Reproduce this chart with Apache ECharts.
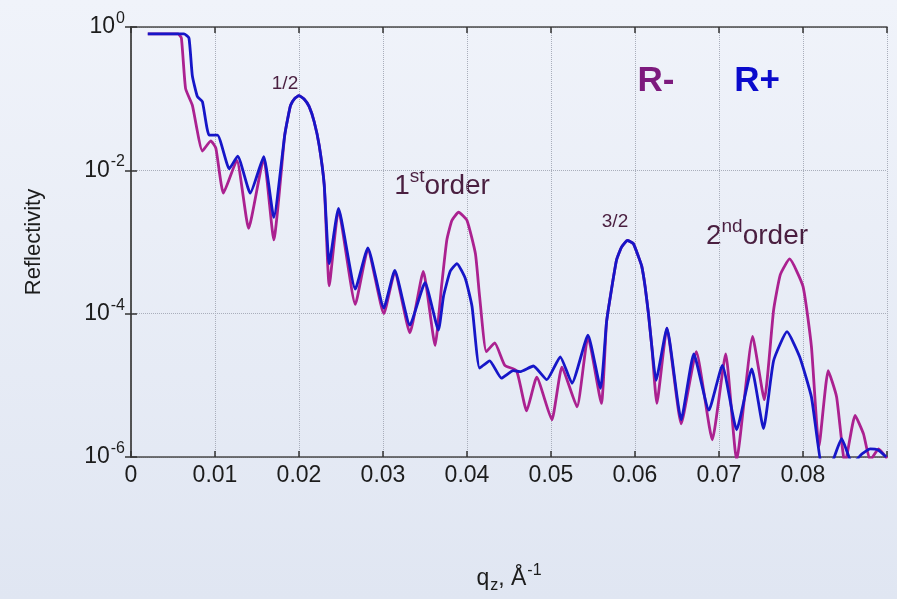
<!DOCTYPE html>
<html>
<head>
<meta charset="utf-8">
<script src="https://cdn.jsdelivr.net/npm/echarts@6/dist/echarts.min.js"></script>
<style>
html,body{margin:0;padding:0;}
#chart{width:897px;height:599px;}
</style>
</head>
<body>
<div id="chart"></div>
<script>
// q_z values (Å^-1) and reflectivity for R+ (blue)
const qPlus = [0.0020,0.0063,0.0069,0.0073,0.0079,0.0085,0.0093,0.0103,0.0117,0.0127,0.0142,0.0158,0.0170,
  0.0183,0.0187,0.0190,0.0195,0.0200,0.0206,0.0212,0.0218,0.0224,0.0230,0.0236,0.0247,0.0267,0.0282,0.0301,
  0.0314,0.0332,0.0350,0.0366,0.0372,0.0380,0.0388,0.0398,0.0406,0.0415,0.0427,0.0441,0.0455,0.0463,0.0479,
  0.0495,0.0511,0.0525,0.0544,0.0559,0.0566,0.0570,0.0578,0.0584,0.0591,0.0598,0.0604,0.0608,0.0612,0.0616,
  0.0620,0.0625,0.0638,0.0655,0.0670,0.0688,0.0704,0.0721,0.0739,0.0753,0.0765,0.0781,0.0796,0.0810,0.0824,
  0.0834,0.0846,0.0859,0.0870,0.0880,0.0889,0.0899];
const rPlus = [0.80,0.80,0.70,0.21,0.107,0.091,0.031,0.031,0.0105,0.0158,0.0048,0.0155,0.0022,
  0.031,0.056,0.081,0.101,0.110,0.099,0.078,0.048,0.0224,0.0063,5.0e-4,2.95e-3,2.2e-4,8.3e-4,1.2e-4,
  4.0e-4,6.9e-5,2.7e-4,5.9e-5,1.74e-4,3.9e-4,5.0e-4,3.1e-4,1.26e-4,1.74e-5,2.2e-5,1.26e-5,1.6e-5,1.55e-5,1.86e-5,
  1.2e-5,2.5e-5,1.07e-5,5.0e-5,9.1e-6,7.4e-5,1.55e-4,5.6e-4,8.5e-4,1.05e-3,9.5e-4,6.3e-4,4.6e-4,2.4e-4,1.0e-4,
  3.5e-5,1.17e-5,6.3e-5,3.3e-6,2.75e-5,4.5e-6,1.9e-5,2.4e-6,1.7e-5,2.5e-6,2.2e-5,5.6e-5,2.5e-5,6.9e-6,6.3e-7,
  8e-7,1.8e-6,8e-7,1.1e-6,1.3e-6,1.26e-6,1.0e-6];

// R- (purple)
const qMinus = [0.0020,0.0056,0.0060,0.0065,0.0073,0.0085,0.0095,0.0101,0.0110,0.0126,0.0140,0.0158,0.0170,
  0.0183,0.0187,0.0190,0.0195,0.0200,0.0206,0.0212,0.0218,0.0224,0.0230,0.0236,0.0247,0.0267,0.0282,0.0301,
  0.0314,0.0332,0.0348,0.0362,0.0370,0.0376,0.0382,0.0390,0.0400,0.0410,0.0415,0.0423,0.0433,0.0445,0.0459,
  0.0471,0.0483,0.0501,0.0513,0.0531,0.0544,0.0560,0.0566,0.0570,0.0578,0.0584,0.0591,0.0598,0.0604,0.0608,
  0.0612,0.0616,0.0620,0.0626,0.0638,0.0655,0.0673,0.0692,0.0708,0.0721,0.0740,0.0754,0.0765,0.0773,0.0784,
  0.0800,0.0810,0.0819,0.0830,0.0840,0.0850,0.0862,0.0872,0.0880,0.0890,0.0900];
const rMinus = [0.80,0.80,0.70,0.138,0.081,0.0186,0.0257,0.0204,0.0048,0.0138,0.00155,0.0148,0.00107,
  0.031,0.056,0.081,0.101,0.110,0.099,0.078,0.048,0.0224,0.0063,2.45e-4,2.8e-3,1.35e-4,7.9e-4,1.0e-4,
  3.8e-4,5.4e-5,3.9e-4,3.6e-5,2.6e-4,1.07e-3,2.0e-3,2.6e-3,2.0e-3,6.9e-4,1.74e-4,2.95e-5,3.9e-5,1.9e-5,1.6e-5,
  4.4e-6,1.3e-5,3.3e-6,1.8e-5,5.0e-6,4.8e-5,5.6e-6,7.4e-5,1.55e-4,5.6e-4,8.5e-4,1.05e-3,9.5e-4,6.3e-4,4.6e-4,
  2.4e-4,1.0e-4,3.5e-5,5.6e-6,6.3e-5,2.9e-6,2.95e-5,1.74e-6,2.75e-5,9e-7,4.8e-5,6.3e-6,1.12e-4,3.5e-4,5.8e-4,
  2.4e-4,3.5e-5,1.4e-6,1.6e-5,6.9e-6,8e-7,3.8e-6,2.1e-6,9e-7,1.3e-6,9.5e-7];

const xTicks = [0,0.01,0.02,0.03,0.04,0.05,0.06,0.07,0.08];

const chart = echarts.init(document.getElementById('chart'), null, {renderer:'canvas'});
const FONT = 'Liberation Sans, Arial, sans-serif';
const txtCol = '#4a1f40';
const lblCol = '#1c1c1c';

const axisLineStyle = {show:true, lineStyle:{color:'#4a4a4a', width:1.5}};
const tickStyle = {show:true, inside:true, length:6, lineStyle:{color:'#333', width:1.5}};
const gridLine = {show:true, lineStyle:{color:'#a9aebb', type:'dotted', width:1}};

const option = {
  backgroundColor: new echarts.graphic.LinearGradient(0,0,0,1,[
    {offset:0,color:'#f0f3fa'},{offset:1,color:'#e0e6f2'}]),
  animation:false,
  grid:{left:131, top:27, right:10, bottom:142, containLabel:false, outerBoundsMode:'none'},
  xAxis:[{
    type:'value', min:0, max:0.09, interval:0.01,
    axisLine:axisLineStyle, axisTick:tickStyle, splitLine:gridLine,
    axisLabel:{fontFamily:FONT, fontSize:23, color:lblCol, margin:7,
      formatter:function(v){ const r = Math.round(v*100)/100; if (r>0.085) return ''; return xTicks.indexOf(r)>=0 ? String(r) : ''; }},
    name:'{n|q}{sub|z}{n|, Å}{sup|-1}', nameLocation:'middle', nameGap:106,
    nameTextStyle:{fontFamily:FONT, color:lblCol, rich:{
      n:{fontSize:23, fontFamily:FONT, color:lblCol},
      sub:{fontSize:16, fontFamily:FONT, color:lblCol, padding:[14,0,0,1]},
      sup:{fontSize:16, fontFamily:FONT, color:lblCol, padding:[0,0,16,1]}
    }}
  },{
    type:'value', min:0, max:0.09, interval:0.01, position:'top',
    axisLine:axisLineStyle, axisTick:tickStyle, splitLine:{show:false}, axisLabel:{show:false}
  }],
  yAxis:[{
    type:'log', logBase:10, min:1e-6, max:1, interval:2, splitNumber:3,
    axisLine:axisLineStyle, axisTick:tickStyle, splitLine:gridLine,
    axisLabel:{margin:6, formatter:function(v){ const e = Math.round(Math.log10(v)); return '{b|10}{s|'+e+'}'; },
      rich:{ b:{fontSize:23, fontFamily:FONT, color:lblCol}, s:{fontSize:16, fontFamily:FONT, color:lblCol, padding:[0,0,17,1]} }},
    name:'Reflectivity', nameLocation:'middle', nameGap:86, nameRotate:90,
    nameTextStyle:{fontFamily:FONT, fontSize:22, color:lblCol}
  },{
    type:'log', logBase:10, min:1e-6, max:1, interval:2, splitNumber:3, position:'right',
    axisLine:axisLineStyle, axisTick:tickStyle, splitLine:{show:false}, axisLabel:{show:false}
  }],
  series:[{
    name:'R-', type:'line', xAxisIndex:0, yAxisIndex:0, showSymbol:false, smooth:0.15, clip:true,
    lineStyle:{color:'#ab2190', width:2.8}, itemStyle:{color:'#ab2190'},
    data: qMinus.map((q,i)=>[q, rMinus[i]])
  },{
    name:'R+', type:'line', xAxisIndex:0, yAxisIndex:0, showSymbol:false, smooth:0.15, clip:true,
    lineStyle:{color:'#1616c8', width:2.8}, itemStyle:{color:'#1616c8'},
    data: qPlus.map((q,i)=>[q, rPlus[i]])
  }],
  graphic:[
    {type:'text', x:285, y:84, style:{text:'1/2', font:'19px '+FONT, fill:txtCol, align:'center', verticalAlign:'middle'}},
    {type:'text', x:615, y:222, style:{text:'3/2', font:'19px '+FONT, fill:txtCol, align:'center', verticalAlign:'middle'}},
    {type:'text', x:442, y:186, style:{text:'{a|1}{s|st}{a|order}', align:'center', verticalAlign:'middle', fill:txtCol,
      rich:{a:{fontSize:28, fontFamily:FONT, fill:txtCol}, s:{fontSize:19, fontFamily:FONT, fill:txtCol, padding:[0,0,18,0]}}}},
    {type:'text', x:757, y:236, style:{text:'{a|2}{s|nd}{a|order}', align:'center', verticalAlign:'middle', fill:txtCol,
      rich:{a:{fontSize:28, fontFamily:FONT, fill:txtCol}, s:{fontSize:19, fontFamily:FONT, fill:txtCol, padding:[0,0,18,0]}}}},
    {type:'text', x:656, y:81, style:{text:'R-', font:'bold 35px '+FONT, fill:'#7d1a7d', align:'center', verticalAlign:'middle'}},
    {type:'text', x:757, y:81, style:{text:'R+', font:'bold 35px '+FONT, fill:'#0a0acc', align:'center', verticalAlign:'middle'}}
  ]
};
chart.setOption(option);
</script>
</body>
</html>
